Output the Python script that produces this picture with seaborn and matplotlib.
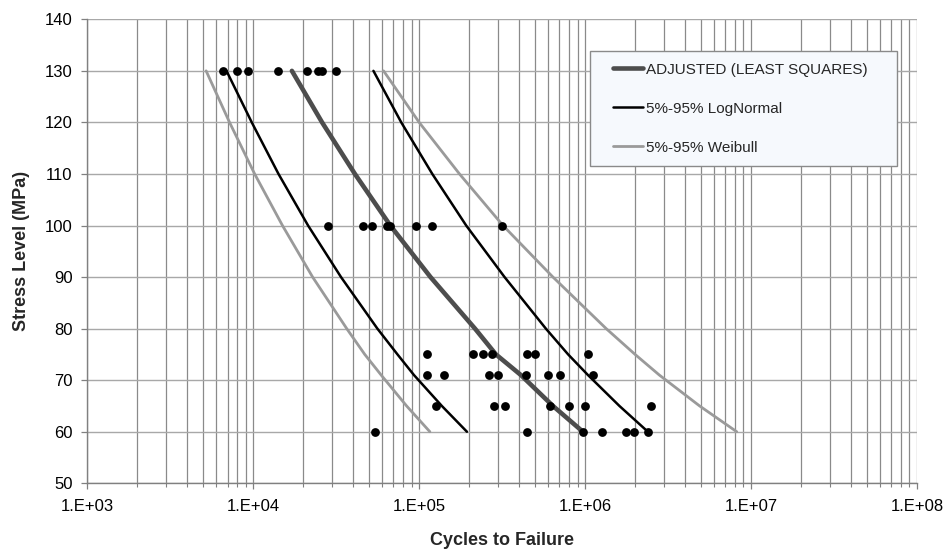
import numpy as np
import pandas as pd
import matplotlib
matplotlib.use("Agg")
import matplotlib.pyplot as plt
import seaborn as sns
from matplotlib.ticker import LogLocator, FixedLocator, NullFormatter
from matplotlib.lines import Line2D
from matplotlib.legend_handler import HandlerLine2D

# ---- data ----
stress_130 = [6.6e3, 8.0e3, 9.3e3, 1.41e4, 2.11e4, 2.45e4, 2.6e4, 3.15e4]
stress_100 = [2.82e4, 4.58e4, 5.19e4, 6.38e4, 6.66e4, 9.55e4, 1.19e5, 3.15e5]
stress_75 = [1.11e5, 2.1e5, 2.42e5, 2.74e5, 4.45e5, 4.97e5, 1.04e6]
stress_71 = [1.11e5, 1.41e5, 2.63e5, 2.98e5, 4.39e5, 5.95e5, 7.03e5, 1.11e6]
stress_65 = [1.26e5, 2.82e5, 3.28e5, 6.12e5, 7.97e5, 9.95e5, 2.49e6]
stress_60 = [5.4e4, 4.45e5, 9.7e5, 1.26e6, 1.76e6, 1.96e6, 2.39e6]

curve_levels = [130, 120, 110, 100, 90, 80, 75, 71, 65, 60]
adjusted = [1.71e4, 2.6e4, 4.1e4, 6.7e4, 1.17e5, 2.17e5, 2.9e5, 4.1e5, 6.4e5, 9.7e5]
lognormal_low = [6.9e3, 9.8e3, 1.42e4, 2.14e4, 3.38e4, 5.6e4, 7.4e4, 9.3e4, 1.37e5, 1.94e5]
lognormal_high = [5.3e4, 7.8e4, 1.2e5, 1.92e5, 3.27e5, 5.8e5, 7.9e5, 1.04e6, 1.61e6, 2.39e6]
weibull_low = [5.2e3, 7.2e3, 1.02e4, 1.5e4, 2.28e4, 3.66e4, 4.7e4, 5.9e4, 8.4e4, 1.16e5]
weibull_high = [6.1e4, 1.0e5, 1.75e5, 3.2e5, 6.4e5, 1.34e6, 2.0e6, 2.8e6, 4.9e6, 8.2e6]

x_ticks = [1e3, 1e4, 1e5, 1e6, 1e7, 1e8]
x_tick_labels = ["1.E+03", "1.E+04", "1.E+05", "1.E+06", "1.E+07", "1.E+08"]
y_ticks = [50, 60, 70, 80, 90, 100, 110, 120, 130, 140]

# ---- build tables ----
pts = []
for s, arr in [(130, stress_130), (100, stress_100), (75, stress_75),
               (71, stress_71), (65, stress_65), (60, stress_60)]:
    for n in arr:
        pts.append({"N": n, "S": s})
points = pd.DataFrame(pts)

def curve_df(vals):
    return pd.DataFrame({"N": vals, "S": curve_levels})

sns.set_theme(style="white")
plt.rcParams["font.family"] = ["Liberation Sans", "DejaVu Sans"]

fig = plt.figure(figsize=(9.49, 5.5), dpi=100)
ax = fig.add_axes([87.3 / 949, 1 - 483.3 / 550, (917 - 87.3) / 949, (483.3 - 19.3) / 550])

ax.set_xscale("log")
ax.set_xlim(1e3, 1e8)
ax.set_ylim(50, 140)

# grid
ax.xaxis.set_major_locator(FixedLocator(x_ticks))
ax.xaxis.set_minor_locator(LogLocator(base=10, subs=np.arange(2, 10)))
ax.xaxis.set_minor_formatter(NullFormatter())
ax.set_xticks(x_ticks)
ax.set_xticklabels(x_tick_labels)
ax.set_yticks(y_ticks)
ax.grid(True, which="major", axis="y", color="#a8a8a8", linewidth=1.0)
ax.grid(True, which="both", axis="x", color="#8a8a8a", linewidth=0.9)
ax.set_axisbelow(True)

# curves
wcol = "#9a9a9a"
sns.lineplot(data=curve_df(weibull_low), x="N", y="S", sort=False, estimator=None,
             color=wcol, linewidth=2.0, ax=ax, label="5%-95% Weibull")
sns.lineplot(data=curve_df(weibull_high), x="N", y="S", sort=False, estimator=None,
             color=wcol, linewidth=2.0, ax=ax, label="_nolegend_")
sns.lineplot(data=curve_df(lognormal_low), x="N", y="S", sort=False, estimator=None,
             color="black", linewidth=1.8, ax=ax, label="5%-95% LogNormal")
sns.lineplot(data=curve_df(lognormal_high), x="N", y="S", sort=False, estimator=None,
             color="black", linewidth=1.8, ax=ax, label="_nolegend_")
sns.lineplot(data=curve_df(adjusted), x="N", y="S", sort=False, estimator=None,
             color="#4d4d4d", linewidth=3.3, ax=ax, label="ADJUSTED (LEAST SQUARES)")

sns.scatterplot(data=points, x="N", y="S", color="black", s=40, edgecolor="black",
                linewidth=0, ax=ax, zorder=5, legend=False)

# legend in the reference order
handles, labels = ax.get_legend_handles_labels()
order = ["ADJUSTED (LEAST SQUARES)", "5%-95% LogNormal", "5%-95% Weibull"]
hmap = dict(zip(labels, handles))
leg = ax.legend([hmap[k] for k in order], order,
                loc="upper left", bbox_to_anchor=(0.6059, 0.9317, 0.370, 0.0), mode="expand",
                fontsize=11, frameon=True, fancybox=False, borderpad=0.77,
                labelspacing=1.63, handlelength=3.44, handletextpad=-0.54, borderaxespad=0,
                handler_map={Line2D: HandlerLine2D(numpoints=2, marker_pad=0.74)})
leg.get_frame().set_facecolor("#f6f9fd")
leg.get_frame().set_edgecolor("#8a8a8a")
leg.get_frame().set_linewidth(1.0)
leg.get_frame().set_alpha(1)

# spines / ticks
for side in ["top", "right"]:
    ax.spines[side].set_visible(False)
for side in ["left", "bottom"]:
    ax.spines[side].set_color("#808080")
    ax.spines[side].set_linewidth(1.0)
ax.tick_params(axis="both", which="major", direction="out", length=4, width=0.9,
               color="#808080", labelsize=12, colors="black")
ax.tick_params(axis="x", which="major", pad=7, bottom=True)
ax.tick_params(axis="y", which="major", pad=6.5, left=True)
ax.tick_params(axis="x", which="minor", direction="out", length=3, width=0.8,
               color="#808080", bottom=True)
for t in ax.get_xticklabels() + ax.get_yticklabels():
    t.set_color("black")

ax.set_xlabel("Cycles to Failure", fontsize=13, fontweight="bold", labelpad=13)
ax.set_ylabel("Stress Level (MPa)", fontsize=13, fontweight="bold", labelpad=11)

fig.savefig("out.png", dpi=100)
